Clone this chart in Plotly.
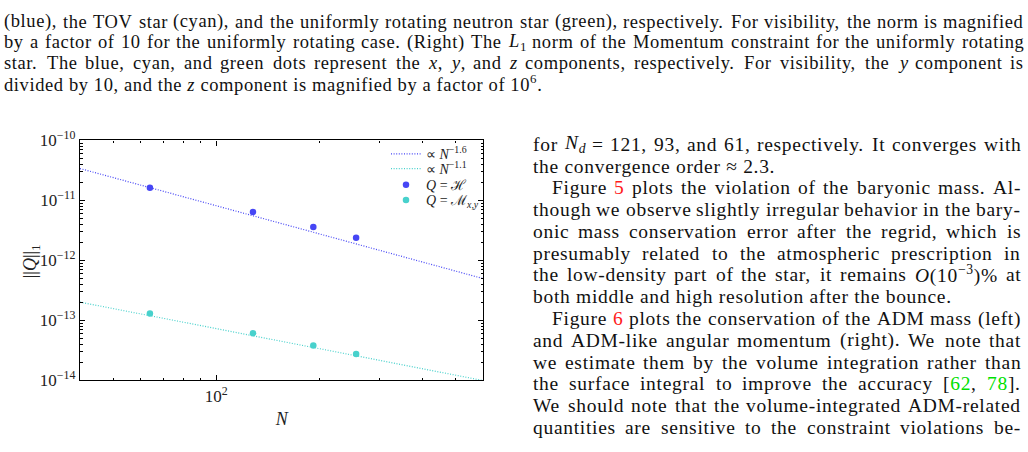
import re
import math
import plotly.graph_objects as go

# ---------------- data ----------------
N_points = [64, 128, 192, 256]
Q_H = [1.63e-11, 6.41e-12, 3.61e-12, 2.39e-12]
Q_Mxy = [1.31e-13, 6.14e-14, 3.82e-14, 2.75e-14]

fit_N = [40, 600]
fit_H = [3.4e-11, 5.0e-13]      # dotted guide  ∝ N^-1.6
fit_M = [2.02e-13, 1.0e-14]     # dotted guide  ∝ N^-1.1

x_major = [100]
x_major_text = ["10<sup>2</sup>"]
y_major = [1e-14, 1e-13, 1e-12, 1e-11, 1e-10]
y_major_text = ["10<sup>−14</sup>", "10<sup>−13</sup>", "10<sup>−12</sup>",
                "10<sup>−11</sup>", "10<sup>−10</sup>"]
x_minor = [50, 60, 70, 80, 90, 200, 300, 400, 500, 600]
y_minor = [m * 10.0 ** e for e in range(-14, -10) for m in range(2, 10)]

legend_labels = ["∝ <i>N</i><sup>−1.6</sup>", "∝ <i>N</i><sup>−1.1</sup>",
                 "<i>Q</i> = ℋ", "<i>Q</i> = ℳ<sub><i>x</i>,<i>y</i></sub>"]
y_title = "||<i>Q</i>||<sub>1</sub>"
x_title = "<i>N</i>"

caption_lines = [
    "(blue), the TOV star (cyan), and the uniformly rotating neutron star (green), respectively. For visibility, the norm is magnified",
    "by a factor of 10 for the uniformly rotating case. (Right) The <i>L</i><sub>1</sub> norm of the Momentum constraint for the uniformly rotating",
    "star. The blue, cyan, and green dots represent the <i>x</i>, <i>y</i>, and <i>z</i> components, respectively. For visibility, the <i>y</i> component is",
    "divided by 10, and the <i>z</i> component is magnified by a factor of 10<sup>6</sup>.",
]
caption_justify = [True, True, True, False]

RED = "<span style='color:#ff1a1a'>{}</span>"
GRN = "<span style='color:#00e000'>{}</span>"
body_lines = [
    "for <i>N<sub>d</sub></i> = 121, 93, and 61, respectively. It converges with",
    "the convergence order ≈ 2.3.",
    "Figure " + RED.format("5") + " plots the violation of the baryonic mass. Al-",
    "though we observe slightly irregular behavior in the bary-",
    "onic mass conservation error after the regrid, which is",
    "presumably related to the atmospheric prescription in",
    "the low-density part of the star, it remains <i>O</i>(10<sup>−3</sup>)% at",
    "both middle and high resolution after the bounce.",
    "Figure " + RED.format("6") + " plots the conservation of the ADM mass (left)",
    "and ADM-like angular momentum (right). We note that",
    "we estimate them by the volume integration rather than",
    "the surface integral to improve the accuracy [" + GRN.format("62") + ", " + GRN.format("78") + "].",
    "We should note that the volume-integrated ADM-related",
    "quantities are sensitive to the constraint violations be-",
]
body_justify = [True, False, True, True, True, True, True, False,
                True, True, True, True, True, True]
body_indent = [False, False, True, False, False, False, False, False,
               True, False, False, False, False, False]

# ---------------- layout constants ----------------
W, H = 1028, 452
SERIF = "Liberation Serif, Times New Roman, serif"
BLUE = "#4646f5"
CYAN = "#48d1cc"

# Times-Roman metrics (Liberation Serif is metric compatible)
ROMAN = {' ': 250, '(': 333, ')': 333, '[': 333, ']': 333, ',': 250, '.': 250,
         '-': 333, '=': 564, '%': 833, '≈': 549, '−': 564, ':': 278, ';': 278}
for c in '0123456789':
    ROMAN[c] = 500
ROMAN.update(dict(zip('ABCDEFGHIJKLMNOPQRSTUVWXYZ',
    [722, 667, 667, 722, 611, 556, 722, 722, 333, 389, 722, 611, 889, 722, 722,
     556, 722, 667, 556, 611, 722, 722, 944, 722, 722, 611])))
ROMAN.update(dict(zip('abcdefghijklmnopqrstuvwxyz',
    [444, 500, 444, 500, 444, 333, 500, 500, 278, 278, 500, 278, 778, 500, 500,
     500, 500, 333, 389, 278, 500, 500, 722, 500, 500, 444])))
ITALIC = {'L': 556, 'N': 667, 'O': 722, 'Q': 722, 'd': 500, 'x': 444, 'y': 444, 'z': 389}


def text_width(html, fs, ls):
    italic, script, w = False, 0, 0.0
    for tok in re.split(r'(<[^>]+>)', html):
        if tok.startswith('<'):
            closing = tok.startswith('</')
            tag = tok.strip('</>').split()[0].lower()
            if tag == 'i':
                italic = not closing
            elif tag in ('sup', 'sub'):
                script += -1 if closing else 1
            continue
        for ch in tok:
            cw = ITALIC.get(ch, ROMAN.get(ch, 500)) if italic else ROMAN.get(ch, 500)
            w += cw / 1000.0 * fs * (0.7 if script else 1.0) + ls
    return w


annotations = []


def add_text(html, x0, x1, yc, fs, ls, justify):
    font = dict(family=SERIF, size=fs, color="#111111")
    common = dict(xref="paper", yref="paper", showarrow=False, yanchor="middle",
                  borderpad=0, borderwidth=0, font=font, y=1 - yc / H)
    wrap = "<span style='letter-spacing:%.2fpx'>{}</span>" % ls
    if not justify:
        annotations.append(dict(text=wrap.format(html), x=x0 / W, xanchor="left", **common))
        return
    words = re.split(r' (?![^<]*>)', html)
    widths = [text_width(wd, fs, ls) for wd in words]
    gap = (x1 - x0 - sum(widths)) / (len(words) - 1)
    x = x0
    for i, (wd, ww) in enumerate(zip(words, widths)):
        if i == len(words) - 1:
            annotations.append(dict(text=wrap.format(wd), x=x1 / W, xanchor="right", **common))
        else:
            annotations.append(dict(text=wrap.format(wd), x=x / W, xanchor="left", **common))
        x += ww + gap


cap_y = [10.5, 32, 53.5, 75]
for line, j, yc in zip(caption_lines, caption_justify, cap_y):
    add_text(line, 4, 1024, yc, 18.5, 0.6, j)

for k, (line, j, ind) in enumerate(zip(body_lines, body_justify, body_indent)):
    add_text(line, 551.7 if ind else 532.7, 1021, 139 + 22.9 * k, 19.5, 0.7, j)

# y-axis title (placed as rotated text beside the tick labels)
annotations.append(dict(text=y_title, textangle=-90, xref="paper", yref="paper",
                        x=31 / W, y=1 - 262 / H, xanchor="center", yanchor="middle",
                        showarrow=False, borderpad=0,
                        font=dict(family=SERIF, size=18, color="#222222")))

# ---------------- figure ----------------
fig = go.Figure()
fig.add_trace(go.Scatter(x=fit_N, y=fit_H, mode="lines", name=legend_labels[0],
                         legend="legend",
                         line=dict(color=BLUE, width=1.2, dash="1px,1.6px")))
fig.add_trace(go.Scatter(x=fit_N, y=fit_M, mode="lines", name=legend_labels[1],
                         legend="legend2",
                         line=dict(color=CYAN, width=1.2, dash="1px,1.6px")))
fig.add_trace(go.Scatter(x=N_points, y=Q_H, mode="markers", name=legend_labels[2],
                         legend="legend3",
                         marker=dict(color=BLUE, size=6.5)))
fig.add_trace(go.Scatter(x=N_points, y=Q_Mxy, mode="markers", name=legend_labels[3],
                         legend="legend4",
                         marker=dict(color=CYAN, size=6.5)))

axis_common = dict(type="log", showline=True, linecolor="black", linewidth=1.3,
                   mirror="allticks", ticks="inside", ticklen=5, tickwidth=1,
                   tickcolor="black", showgrid=False, zeroline=False,
                   tickfont=dict(family=SERIF, size=17, color="#222222"))


def legend_at(row_y):
    return dict(x=386 / W, y=1 - row_y / H, xanchor="left", yanchor="middle",
                bgcolor="rgba(0,0,0,0)", borderwidth=0, itemwidth=30,
                font=dict(family=SERIF, size=14, color="#222222"))


fig.update_layout(
    width=W, height=H, margin=dict(l=0, r=0, t=0, b=0),
    paper_bgcolor="white", plot_bgcolor="white",
    xaxis=dict(domain=[80 / W, 483.3 / W],
               range=[math.log10(40), math.log10(602)],
               tickmode="array", tickvals=x_major, ticktext=x_major_text,
               minor=dict(tickmode="array", tickvals=x_minor, ticks="inside",
                          ticklen=2.5, tickcolor="black", tickwidth=1),
               title=dict(text=x_title, standoff=7,
                          font=dict(family=SERIF, size=18, color="#222222")),
               **axis_common),
    yaxis=dict(domain=[(H - 387.3) / H, (H - 135) / H],
               range=[-14, -10],
               tickmode="array", tickvals=y_major, ticktext=y_major_text,
               minor=dict(tickmode="array", tickvals=y_minor, ticks="inside",
                          ticklen=2.5, tickcolor="black", tickwidth=1),
               **axis_common),
    legend=legend_at(149.5),
    legend2=legend_at(165),
    legend3=legend_at(182),
    legend4=legend_at(198),
    showlegend=True,
    annotations=annotations,
)

fig.write_html("out.html")
